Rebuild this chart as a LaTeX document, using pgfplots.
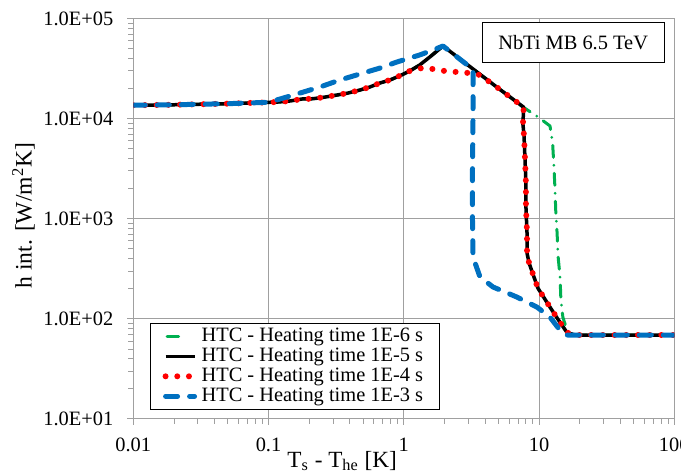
\documentclass[border=0pt]{standalone}
\usepackage{fontspec}
\setmainfont{Liberation Serif}
\usepackage{pgfplots}
\pgfplotsset{compat=1.18}
\definecolor{xlgreen}{HTML}{00B050}
\definecolor{xlblue}{HTML}{0070C0}
\definecolor{xlred}{HTML}{FF0000}
\definecolor{gridgray}{HTML}{A0A0A0}
\pgfplotsset{greenlegend/.style={legend image code/.code={\draw[##1, solid] (0.8pt,0pt) -- (6.5pt,0pt);}}}
\begin{document}
\begin{tikzpicture}[font=\fontsize{10.2pt}{12pt}\selectfont]
\path[use as bounding box] (0,0) rectangle (340.5pt,238pt);
\begin{axis}[
  at={(66.65pt,28.5pt)}, anchor=south west,
  scale only axis, width=270.5pt, height=200.25pt,
  xmode=log, ymode=log,
  xmin=0.01, xmax=100, ymin=10, ymax=100000,
  xtick={0.01,0.1,1,10,100}, xticklabels={0.01,0.1,1,10,100},
  ytick={10,100,1000,10000,100000},
  yticklabels={1.0E+01,1.0E+02,1.0E+03,1.0E+04,1.0E+05},
  minor xtick={0.02,0.03,0.04,0.05,0.06,0.07,0.08,0.09,0.2,0.3,0.4,0.5,0.6,0.7,0.8,0.9,2,3,4,5,6,7,8,9,20,30,40,50,60,70,80,90},
  minor ytick={20,30,40,50,60,70,80,90,200,300,400,500,600,700,800,900,2000,3000,4000,5000,6000,7000,8000,9000,20000,30000,40000,50000,60000,70000,80000,90000},
  grid=major, major grid style={gridgray, line width=0.5pt},
  axis line style={gridgray, line width=0.5pt},
  tick style={gridgray, line width=0.5pt},
  tick align=outside, tick pos=left,
  major tick length=3pt, minor tick length=2.5pt,
  /pgf/number format/assume math mode=true,
  yticklabel style={xshift=-3.5pt},
  xticklabel style={yshift=-3pt},
  xlabel={T\textsubscript{s} - T\textsubscript{he} [K]},
  ylabel={h int. [W/m\textsuperscript{2}K]},
  xlabel style={at={(axis description cs:0.386,-0.1199)}, anchor=base, font=\fontsize{11.6pt}{13pt}\selectfont},
  ylabel style={at={(axis description cs:-0.203,0.508)}, anchor=center, font=\fontsize{11.8pt}{13pt}\selectfont},
  legend style={at={(axis description cs:0.031,0.0225)}, anchor=south west,
    draw=black, line width=0.5pt, fill=white, inner xsep=6pt, inner ysep=0.5pt,
    row sep=-2.3pt, font=\fontsize{10.2pt}{12pt}\selectfont},
  legend cell align=left,
  legend image code/.code={\draw[#1] (0pt,0pt) -- (14.5pt,0pt);},
  every axis plot/.append style={line join=round},
]
% HTC - Heating time 1E-6 s
\addplot[xlgreen, line width=1.5pt, line cap=round, dash pattern=on 6pt off 4pt on 0pt off 4pt, greenlegend] coordinates {
(0.01,13600)(0.02,13750)(0.05,14100)(0.1,14550)
(0.1175,14650)(0.144,15000)(0.177,15700)(0.213,15800)(0.261,16400)(0.321,17200)(0.387,18000)(0.474,19300)(0.562,20700)(0.667,22700)(0.791,24300)(0.965,27300)(1.106,29900)
(1.31,34300)(1.556,41200)(1.95,53100)(3.0,34000)(5.0,20100)(7.6,13060)
(9.8,10400)(12.05,8450)(12.6,5700)(12.9,3200)(13.1,2075)(13.3,1170)(13.6,720)(13.8,434)(14.3,262)(14.5,158)(15.0,104)(16.1,77)(17.0,69)(100,69)};
\addlegendentry{HTC - Heating time 1E-6 s}
% HTC - Heating time 1E-5 s
\addplot[black, line width=1.75pt] coordinates {
(0.01,13600)(0.02,13750)(0.05,14100)(0.1,14550)
(0.1175,14650)(0.144,15000)(0.177,15700)(0.213,15800)(0.261,16400)(0.321,17200)(0.387,18000)(0.474,19300)(0.562,20700)(0.667,22700)(0.791,24300)(0.965,27300)(1.106,29900)
(1.31,34300)(1.556,41200)(1.95,53100)(3.0,34000)(5.0,20100)(7.7,13000)
(7.6,8800)(7.74,6840)(7.87,4040)(8.0,2270)(8.0,1310)(8.15,720)(8.15,454)(8.44,361)(9.8,203)(12.05,131)(13.6,102)(16.1,73)(18.5,69)(100,69)};
\addlegendentry{HTC - Heating time 1E-5 s}
% HTC - Heating time 1E-4 s
\addplot[xlred, line width=3pt, line cap=round, dash pattern=on 0pt off 5.85pt] coordinates {
(0.01,13600)(0.02,13750)(0.05,14100)(0.1,14550)
(0.1175,14650)(0.144,15000)(0.177,15700)(0.213,15800)(0.261,16400)(0.321,17200)(0.387,18000)(0.474,19300)(0.562,20700)(0.667,22700)(0.791,24300)(0.965,27300)(1.106,29900)
(1.36,32000)(1.64,31300)(2.01,29900)(2.47,29200)(2.98,28600)(3.65,27300)(5.0,20100)(7.7,13000)
(7.6,8800)(7.74,6840)(7.87,4040)(8.0,2270)(8.0,1310)(8.15,720)(8.15,454)(8.44,361)(9.8,203)(12.05,131)(13.6,102)(16.1,73)(18.5,69)(100,69)};
\addlegendentry{HTC - Heating time 1E-4 s}
% HTC - Heating time 1E-3 s
\addplot[xlblue, line width=2.5pt, line cap=round, dash pattern=on 6pt off 6pt] coordinates {
(0.01,13600)(0.02,13750)(0.05,14100)(0.1,14550)
(0.1216,15700)(0.171,18000)(0.240,20700)(0.337,24300)(0.474,27900)(0.667,32000)(0.891,36800)(1.31,43200)(1.645,48400)(1.95,53100)
(3.25,31000)(3.25,10000)(3.22,3000)(3.22,1000)(3.25,414)(3.66,262)(4.57,208)(6.87,165)(9.66,131)(12.05,104)(14.3,77)(16.1,69)(100,69)};
\addlegendentry{HTC - Heating time 1E-3 s}
\node[draw=black, line width=0.5pt, fill=white, minimum width=91pt, minimum height=20pt, inner sep=0pt]
  at (axis description cs:0.813,0.941) {NbTi MB 6.5 TeV};
\end{axis}
\end{tikzpicture}
\end{document}
